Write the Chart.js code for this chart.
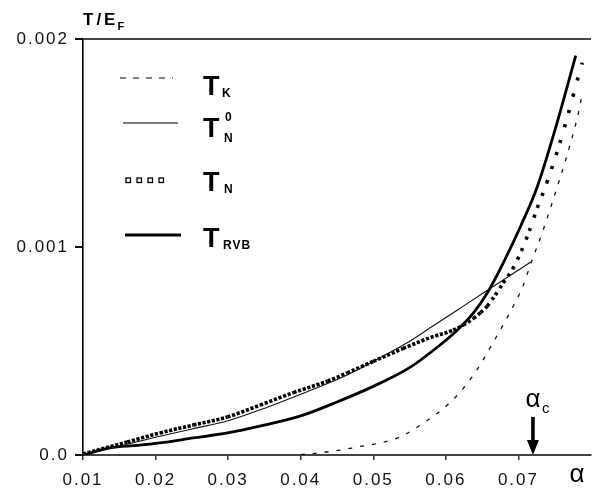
<!DOCTYPE html>
<html><head><meta charset="utf-8">
<script src="https://cdn.jsdelivr.net/npm/chart.js@4/dist/chart.umd.min.js"></script>
<style>html,body{margin:0;padding:0;background:#fff}#wrap{width:592px;height:495px}</style>
</head><body><div id="wrap"><canvas id="c" width="592" height="495"></canvas></div>
<script>
// ---- data ----
const alphaTicks = [0.01, 0.02, 0.03, 0.04, 0.05, 0.06, 0.07];
const yTicks = [0, 0.001, 0.002];
const yTickLabels = ['0.0', '0.001', '0.002'];
const alphaC = 0.072;

// T_K (dashed)
const tkX = [0.040, 0.0425, 0.0455, 0.048, 0.051, 0.0537, 0.0575, 0.0602, 0.0624, 0.0643, 0.0665, 0.0689, 0.0706, 0.0718, 0.0733, 0.0749, 0.0766, 0.0783, 0.0788];
const tkY = [0.000002, 0.00001, 0.000024, 0.00004, 0.000058, 0.000087, 0.000168, 0.00024, 0.00032, 0.00041, 0.00054, 0.00069, 0.00081, 0.00093, 0.00107, 0.00124, 0.00143, 0.00165, 0.00174];

// T_N^0 (thin solid)
const tn0X = [0.010, 0.015, 0.020, 0.025, 0.030, 0.0354, 0.040, 0.0464, 0.050, 0.0546, 0.058, 0.0615, 0.065, 0.0689, 0.0717];
const tn0Y = [0.000003, 0.000042, 0.000085, 0.000125, 0.000165, 0.00023, 0.000292, 0.000385, 0.00045, 0.000538, 0.000615, 0.000695, 0.000775, 0.000864, 0.000928];

// T_N (dotted)
const tnX = [0.0100, 0.0161, 0.0206, 0.0252, 0.0299, 0.0344, 0.0390, 0.0437, 0.0464, 0.0500, 0.0541, 0.0579, 0.0610, 0.0624, 0.0638, 0.0648, 0.0657, 0.0668, 0.0679, 0.0692, 0.0704, 0.0715, 0.0726, 0.0739, 0.0757, 0.0769, 0.0781, 0.0788];
const tnY = [0.000005, 0.0000625, 0.000106, 0.000144, 0.000183, 0.00024, 0.0003, 0.000355, 0.000395, 0.00045, 0.000512, 0.000565, 0.0006, 0.000625, 0.000657, 0.000685, 0.000716, 0.000769, 0.000827, 0.000894, 0.000981, 0.001077, 0.001188, 0.001308, 0.0015, 0.001644, 0.0018, 0.001886];

// T_RVB (thick solid)
const rvbX = [0.010, 0.0137, 0.0175, 0.0206, 0.0252, 0.0299, 0.0345, 0.040, 0.045, 0.050, 0.055, 0.0592, 0.0616, 0.0638, 0.0657, 0.0679, 0.0703, 0.0726, 0.0751, 0.0779];
const rvbY = [0, 0.000034, 0.000046, 0.000058, 0.000082, 0.000106, 0.00014, 0.000188, 0.000255, 0.00033, 0.00042, 0.000529, 0.000601, 0.000683, 0.000779, 0.000923, 0.0011, 0.00129, 0.00157, 0.00192];

const zip = (xs, ys) => xs.map((x, i) => ({x, y: ys[i]}));

function dotDash(ctx) {
  const p0 = ctx.p0, p1 = ctx.p1;
  if (!p0 || !p1 || !isFinite(p0.x) || !isFinite(p1.x)) return [3.2, 1.4];
  const dx = Math.abs(p1.x - p0.x), dy = Math.abs(p1.y - p0.y);
  const L = Math.hypot(dx, dy);
  const period = Math.min(17, Math.max(4.4, 4.6 * L / Math.max(dx, 0.01)));
  return [3.2, period - 3.2];
}

const FONT = '"Liberation Sans", Arial, Helvetica, sans-serif';

const annot = {
  id: 'annot',
  beforeDraw(chart) { chart.ctx.letterSpacing = '2px'; },
  afterDraw(chart) {
    const {ctx, scales: {x}} = chart;
    ctx.save();
    ctx.fillStyle = '#000';
    ctx.strokeStyle = '#000';
    ctx.textAlign = 'left';
    ctx.textBaseline = 'alphabetic';
    // axis title T/E_F
    ctx.letterSpacing = '3px';
    ctx.font = 'bold 17px ' + FONT;
    ctx.fillText('T/E', 83, 25);
    const w = ctx.measureText('T/E').width;
    ctx.letterSpacing = '0px';
    ctx.font = 'bold 11px ' + FONT;
    ctx.fillText('F', 83 + w - 1, 30);

    // legend
    ctx.lineCap = 'butt';
    // T_K
    ctx.lineWidth = 1.2; ctx.setLineDash([6, 7]);
    ctx.beginPath(); ctx.moveTo(120, 78); ctx.lineTo(173, 78); ctx.stroke();
    ctx.setLineDash([]);
    // T_N^0
    ctx.lineWidth = 1.2;
    ctx.beginPath(); ctx.moveTo(123, 123); ctx.lineTo(178, 123); ctx.stroke();
    // T_N squares
    ctx.lineWidth = 1.3;
    for (let i = 0; i < 4; i++) ctx.strokeRect(126 + i * 11, 178, 4.5, 4.5);
    // T_RVB
    ctx.lineWidth = 3;
    ctx.beginPath(); ctx.moveTo(125, 235); ctx.lineTo(181, 235); ctx.stroke();

    ctx.font = 'bold 27px ' + FONT;
    ctx.fillText('T', 203, 95);
    ctx.fillText('T', 203, 137);
    ctx.fillText('T', 203, 191);
    ctx.fillText('T', 203, 247);
    ctx.font = 'bold 12px ' + FONT;
    ctx.fillText('K', 222, 97);
    ctx.fillText('0', 225, 121);
    ctx.fillText('N', 224, 142);
    ctx.fillText('N', 224, 193);
    ctx.letterSpacing = '1px';
    ctx.fillText('RVB', 223, 249);
    ctx.letterSpacing = '0px';

    // alpha_c with arrow
    const ax = x.getPixelForValue(alphaC);
    ctx.font = '26px ' + FONT;
    ctx.textAlign = 'center';
    ctx.fillText('\u03b1', ax, 407);
    ctx.font = '15px ' + FONT;
    ctx.textAlign = 'left';
    ctx.fillText('c', ax + 9, 413);
    ctx.fillRect(ax - 1.8, 417, 3.6, 25);
    ctx.beginPath(); ctx.moveTo(ax - 6, 440); ctx.lineTo(ax + 6, 440); ctx.lineTo(ax, 455); ctx.closePath(); ctx.fill();

    // axis label alpha
    ctx.font = '26px ' + FONT;
    ctx.textAlign = 'center';
    ctx.fillText('\u03b1', 577, 482);
    ctx.restore();
  }
};

new Chart(document.getElementById('c'), {
  type: 'line',
  data: {
    datasets: [
      {label: 'T_K', data: zip(tkX, tkY), borderColor: '#111', borderWidth: 1.3, borderDash: [4, 8], pointRadius: 0, cubicInterpolationMode: 'monotone', fill: false},
      {label: 'T_N0', data: zip(tn0X, tn0Y), borderColor: '#111', borderWidth: 1.1, pointRadius: 0, cubicInterpolationMode: 'monotone', fill: false},
      {label: 'T_N', data: zip(tnX, tnY), borderColor: '#000', borderWidth: 3.6, borderCapStyle: 'butt', pointRadius: 0, cubicInterpolationMode: 'monotone', fill: false, segment: {borderDash: dotDash}},
      {label: 'T_RVB', data: zip(rvbX, rvbY), borderColor: '#000', borderWidth: 2.8, pointRadius: 0, cubicInterpolationMode: 'monotone', fill: false}
    ]
  },
  options: {
    responsive: false, animation: false, devicePixelRatio: 1,
    layout: {padding: {left: 0, right: 1, top: 39, bottom: 0}},
    plugins: {legend: {display: false}, tooltip: {enabled: false}},
    scales: {
      x: {
        type: 'linear', min: 0.01, max: 0.08,
        afterBuildTicks: s => { s.ticks = alphaTicks.map(v => ({value: v})); },
        afterFit: s => { s.height = 40; },
        ticks: {callback: v => v.toFixed(2), font: {family: FONT, size: 17}, color: '#111', padding: 10, maxRotation: 0, autoSkip: false},
        grid: {drawOnChartArea: false, tickLength: 5, color: '#333', lineWidth: 1.5},
        border: {color: '#444', width: 2}
      },
      y: {
        type: 'linear', min: 0, max: 0.002,
        afterBuildTicks: s => { s.ticks = yTicks.map(v => ({value: v})); },
        afterFit: s => { s.width = 83; },
        ticks: {callback: v => yTickLabels[yTicks.indexOf(v)], font: {family: FONT, size: 17}, color: '#111', padding: 6},
        grid: {color: c => (c.tick && c.tick.value === 0.002) ? '#444' : 'rgba(0,0,0,0)', tickColor: '#111', lineWidth: 2, tickLength: 8, drawOnChartArea: true},
        border: {color: '#000', width: 1.6}
      }
    }
  },
  plugins: [annot]
});
</script>
</body></html>
